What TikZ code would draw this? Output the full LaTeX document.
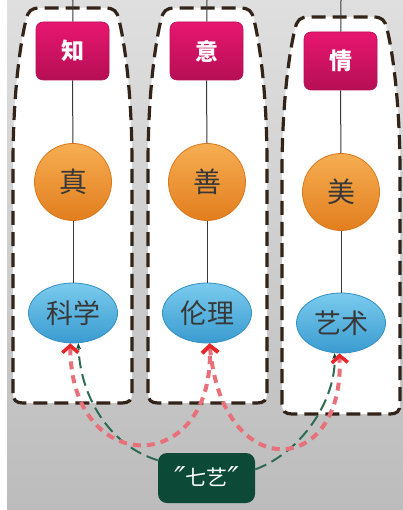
\documentclass[tikz,border=0pt]{standalone}
\usepackage{fontspec}
\newfontfamily\cjk{Noto Sans CJK SC}
\newfontfamily\latn{DejaVu Sans}
\usetikzlibrary{arrows.meta,shapes.geometric}
\definecolor{bgtop}{HTML}{DFDFDF}
\definecolor{bgbot}{HTML}{BCBCBC}
\definecolor{dashbrown}{HTML}{33241A}
\definecolor{magtop}{HTML}{E8166F}
\definecolor{magbot}{HTML}{B50F55}
\definecolor{orgtop}{HTML}{F6AE52}
\definecolor{orgbot}{HTML}{E27E1E}
\definecolor{orgline}{HTML}{D9771C}
\definecolor{bluetop}{HTML}{7ACBEE}
\definecolor{bluebot}{HTML}{3A9BD0}
\definecolor{blueline}{HTML}{3590C4}
\definecolor{txtgray}{HTML}{383838}
\definecolor{dkgreen}{HTML}{0C4A37}
\definecolor{grnline}{HTML}{2F6B52}
\definecolor{arrred}{HTML}{E8262A}
\definecolor{salmon}{HTML}{E8707A}
\newcommand\jarshape[4]{%
\path[outl] ({#1},{#4-10}) -- ({#1},{#3+157})
 .. controls ({#1},{#3+82}) and ({#1+8},{#3+32}) .. ({#1+13},{#3+12})
 .. controls ({#1+15},{#3+3}) and ({#1+18},{#3}) .. ({#1+27},{#3})
 -- ({#2-27},{#3})
 .. controls ({#2-18},{#3}) and ({#2-15},{#3+3}) .. ({#2-13},{#3+12})
 .. controls ({#2-8},{#3+32}) and ({#2},{#3+82}) .. ({#2},{#3+157})
 -- ({#2},{#4-10})
 .. controls ({#2},{#4-3}) and ({#2-3},{#4}) .. ({#2-10},{#4})
 -- ({#1+10},{#4})
 .. controls ({#1+3},{#4}) and ({#1},{#4-3}) .. ({#1},{#4-10}) -- cycle;}
\newcommand\qmk{{\latn\itshape\fontsize{30}{30}\selectfont\raisebox{-3pt}{″}}}
\begin{document}
\begin{tikzpicture}[x=1pt,y=-1pt,
 outl/.style={fill=white,draw=dashbrown,line width=3.2pt,dash pattern=on 14pt off 7pt},
 mag/.style={rounded corners=7pt,minimum width=73pt,minimum height=58pt,inner sep=0pt,
   top color=magtop,bottom color=magbot,draw=magbot,line width=0.6pt,text=white,
   font=\cjk\bfseries\fontsize{23}{23}\selectfont},
 ball/.style={circle,minimum size=77pt,inner sep=0pt,top color=orgtop,bottom color=orgbot,
   draw=orgline,line width=0.8pt,text=txtgray,font=\cjk\fontsize{28}{28}\selectfont},
 egg/.style={ellipse,minimum width=89pt,minimum height=60pt,inner sep=0pt,
   top color=bluetop,bottom color=bluebot,draw=blueline,line width=0.8pt,text=txtgray,
   font=\cjk\fontsize{27}{27}\selectfont},
 seven/.style={rounded corners=9pt,fill=dkgreen,minimum width=97pt,minimum height=50pt,
   inner sep=0pt,text=white,font=\cjk\fontsize{21}{21}\selectfont},
 vline/.style={draw=txtgray,line width=1pt},
 redarr/.style={draw=salmon,line width=4pt,dash pattern=on 8pt off 6pt,
   {Straight Barb[length=7pt,width=16pt,line width=3.5pt,color=arrred]}-{Straight Barb[length=7pt,width=16pt,line width=3.5pt,color=arrred]}},
 grnarr/.style={draw=grnline,line width=2pt,dash pattern=on 12pt off 6pt,
   -{Stealth[length=6pt,width=5pt,color=dkgreen]}}
]
\useasboundingbox (0,0) rectangle (403,510);
\fill[white] (0,0) rectangle (403,510);
\shade[top color=bgtop,bottom color=bgbot] (7,0) rectangle (403,510);
% outlines
\jarshape{13}{132}{8}{403}
\jarshape{148}{267}{8}{403}
\jarshape{282}{400}{17}{414}
% top coordinates
\coordinate (t1) at (73,0);
\coordinate (t2) at (207,0);
\coordinate (t3) at (341,0);
% nodes
\node[mag] (zhi) at (72.5,51) {知};
\node[mag] (yi) at (206.5,51) {意};
\node[mag] (qing) at (340.5,61) {情};
\node[ball] (zhen) at (73,182) {真};
\node[ball] (shan) at (207,182) {善};
\node[ball] (mei) at (341,192) {美};
\node[egg] (kexue) at (73,313) {科学};
\node[egg] (lunli) at (207,313) {伦理};
\node[egg] (yishu) at (341,323) {艺术};
\node[seven] (qiyi) at (206.5,478) {\qmk{}七艺\qmk{}};
% vertical connectors
\draw[vline] (t1) -- (zhi); \draw[vline] (zhi) -- (zhen); \draw[vline] (zhen) -- (kexue);
\draw[vline] (t2) -- (yi); \draw[vline] (yi) -- (shan); \draw[vline] (shan) -- (lunli);
\draw[vline] (t3) -- (qing); \draw[vline] (qing) -- (mei); \draw[vline] (mei) -- (yishu);
% green dashed arrows
\draw[grnarr] (qiyi.160) .. controls (108,445) and (80,395) .. (kexue.-80);
\draw[grnarr] (qiyi.10) .. controls (302,452) and (336,400) .. (yishu.-102);
% red dashed arrows
\draw[redarr] (kexue.-95) .. controls (70,478) and (215,478) .. (lunli.-85);
\draw[redarr] (lunli.-85) .. controls (222,485) and (345,478) .. (yishu.-93);
\end{tikzpicture}
\end{document}
